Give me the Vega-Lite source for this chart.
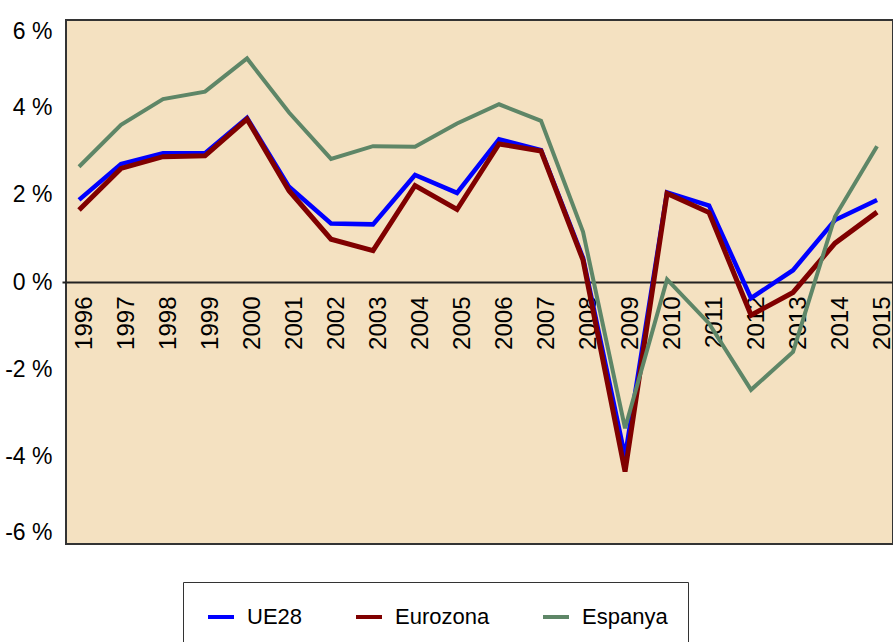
{
  "$schema": "https://vega.github.io/schema/vega-lite/v6.json",
  "width": 827,
  "height": 524,
  "autosize": "none",
  "padding": {"left": 66, "top": 20, "right": 0, "bottom": 98},
  "background": "white",
  "config": {
    "view": {"fill": "#F4E1C1", "stroke": "#333333", "strokeWidth": 2},
    "font": "Liberation Sans"
  },
  "data": {
    "values": [
      {"year": 1996, "series": "UE28", "value": 1.88},
      {"year": 1997, "series": "UE28", "value": 2.70},
      {"year": 1998, "series": "UE28", "value": 2.95},
      {"year": 1999, "series": "UE28", "value": 2.95},
      {"year": 2000, "series": "UE28", "value": 3.76},
      {"year": 2001, "series": "UE28", "value": 2.18},
      {"year": 2002, "series": "UE28", "value": 1.34},
      {"year": 2003, "series": "UE28", "value": 1.32},
      {"year": 2004, "series": "UE28", "value": 2.45},
      {"year": 2005, "series": "UE28", "value": 2.04},
      {"year": 2006, "series": "UE28", "value": 3.27},
      {"year": 2007, "series": "UE28", "value": 3.02},
      {"year": 2008, "series": "UE28", "value": 0.55},
      {"year": 2009, "series": "UE28", "value": -4.0},
      {"year": 2010, "series": "UE28", "value": 2.05},
      {"year": 2011, "series": "UE28", "value": 1.75},
      {"year": 2012, "series": "UE28", "value": -0.37},
      {"year": 2013, "series": "UE28", "value": 0.27},
      {"year": 2014, "series": "UE28", "value": 1.42},
      {"year": 2015, "series": "UE28", "value": 1.88},
      {"year": 1996, "series": "Eurozona", "value": 1.65},
      {"year": 1997, "series": "Eurozona", "value": 2.60},
      {"year": 1998, "series": "Eurozona", "value": 2.87},
      {"year": 1999, "series": "Eurozona", "value": 2.89},
      {"year": 2000, "series": "Eurozona", "value": 3.73},
      {"year": 2001, "series": "Eurozona", "value": 2.09},
      {"year": 2002, "series": "Eurozona", "value": 0.98},
      {"year": 2003, "series": "Eurozona", "value": 0.72},
      {"year": 2004, "series": "Eurozona", "value": 2.21},
      {"year": 2005, "series": "Eurozona", "value": 1.66},
      {"year": 2006, "series": "Eurozona", "value": 3.16},
      {"year": 2007, "series": "Eurozona", "value": 3.00},
      {"year": 2008, "series": "Eurozona", "value": 0.50},
      {"year": 2009, "series": "Eurozona", "value": -4.34},
      {"year": 2010, "series": "Eurozona", "value": 2.03},
      {"year": 2011, "series": "Eurozona", "value": 1.59},
      {"year": 2012, "series": "Eurozona", "value": -0.76},
      {"year": 2013, "series": "Eurozona", "value": -0.24},
      {"year": 2014, "series": "Eurozona", "value": 0.89},
      {"year": 2015, "series": "Eurozona", "value": 1.60},
      {"year": 1996, "series": "Espanya", "value": 2.64},
      {"year": 1997, "series": "Espanya", "value": 3.60},
      {"year": 1998, "series": "Espanya", "value": 4.19},
      {"year": 1999, "series": "Espanya", "value": 4.36},
      {"year": 2000, "series": "Espanya", "value": 5.12},
      {"year": 2001, "series": "Espanya", "value": 3.88},
      {"year": 2002, "series": "Espanya", "value": 2.82},
      {"year": 2003, "series": "Espanya", "value": 3.11},
      {"year": 2004, "series": "Espanya", "value": 3.10},
      {"year": 2005, "series": "Espanya", "value": 3.63},
      {"year": 2006, "series": "Espanya", "value": 4.07},
      {"year": 2007, "series": "Espanya", "value": 3.69},
      {"year": 2008, "series": "Espanya", "value": 1.15},
      {"year": 2009, "series": "Espanya", "value": -3.35},
      {"year": 2010, "series": "Espanya", "value": 0.06},
      {"year": 2011, "series": "Espanya", "value": -0.95},
      {"year": 2012, "series": "Espanya", "value": -2.47},
      {"year": 2013, "series": "Espanya", "value": -1.60},
      {"year": 2014, "series": "Espanya", "value": 1.50},
      {"year": 2015, "series": "Espanya", "value": 3.11}
    ]
  },
  "encoding": {
    "x": {
      "field": "year",
      "type": "quantitative",
      "scale": {"domain": [1995.69, 2015.38], "nice": false, "zero": false},
      "axis": {
        "orient": "bottom",
        "offset": -262,
        "values": [1996, 1997, 1998, 1999, 2000, 2001, 2002, 2003, 2004, 2005, 2006, 2007, 2008, 2009, 2010, 2011, 2012, 2013, 2014, 2015],
        "format": "d",
        "title": null,
        "grid": false,
        "ticks": false,
        "domain": true,
        "domainColor": "#222222",
        "domainWidth": 2,
        "labelAngle": 270,
        "labelAlign": "right",
        "labelBaseline": "middle",
        "labelPadding": 14,
        "labelOffset": 5,
        "labelFontSize": 24,
        "labelColor": "black",
        "labelFlush": false,
        "labelOverlap": false
      }
    },
    "y": {
      "field": "value",
      "type": "quantitative",
      "scale": {"domain": [-6, 6], "nice": false, "zero": false},
      "axis": {
        "values": [-6, -4, -2, 0, 2, 4, 6],
        "labelExpr": "datum.value + ' %'",
        "title": null,
        "grid": false,
        "domain": false,
        "ticks": true,
        "tickSize": 4,
        "tickWidth": 2,
        "tickColor": {"condition": {"test": "datum.value === 0", "value": "#222222"}, "value": "transparent"},
        "labelPadding": 10,
        "labelFontSize": 23,
        "labelColor": "black",
        "labelFlush": true
      }
    },
    "color": {
      "field": "series",
      "type": "nominal",
      "scale": {"domain": ["UE28", "Eurozona", "Espanya"], "range": ["#0000FF", "#800000", "#5E8667"]},
      "legend": {
        "orient": "none",
        "legendX": 117,
        "legendY": 562,
        "direction": "horizontal",
        "title": null,
        "strokeColor": "#333333",
        "fillColor": "white",
        "padding": 20,
        "symbolType": "stroke",
        "symbolStrokeWidth": 4,
        "symbolSize": 676,
        "symbolOffset": 3,
        "labelFontSize": 22,
        "labelColor": "black",
        "labelOffset": 11,
        "columnPadding": 45
      }
    }
  },
  "layer": [
    {
      "transform": [{"filter": "datum.series === 'UE28'"}],
      "mark": {"type": "line", "strokeWidth": 4.5, "clip": true}
    },
    {
      "transform": [{"filter": "datum.series === 'Eurozona'"}],
      "mark": {"type": "line", "strokeWidth": 5, "clip": true}
    },
    {
      "transform": [{"filter": "datum.series === 'Espanya'"}],
      "mark": {"type": "line", "strokeWidth": 4, "clip": true}
    }
  ]
}
